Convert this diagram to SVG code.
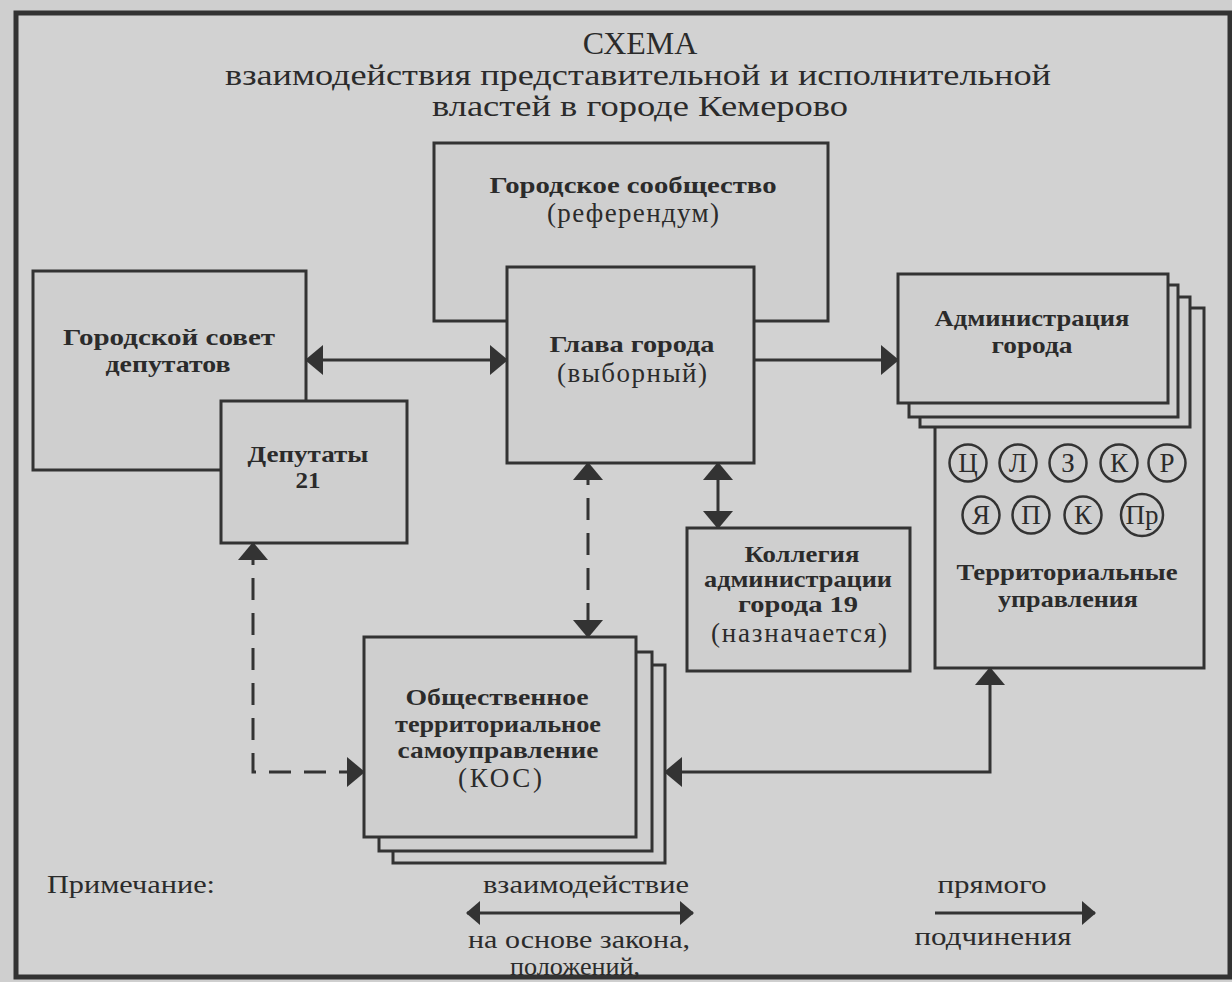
<svg xmlns="http://www.w3.org/2000/svg" width="1232" height="982" viewBox="0 0 1232 982">
<style>
.bx{fill:#cfcfcf;stroke:#333;stroke-width:3}
.cn{fill:none;stroke:#333;stroke-width:3}
.ds{stroke-dasharray:22 13}
.t{font-family:"Liberation Serif","Times New Roman",serif;fill:#2b2b2b;text-anchor:middle}
.b{font-weight:bold;font-size:24px}
.r{font-size:27px}
.lg{font-size:25px}
.ci{fill:none;stroke:#333;stroke-width:2.5}
</style>
<defs>
<marker id="ah" viewBox="0 0 18 30" refX="17" refY="15" markerWidth="18" markerHeight="30" markerUnits="userSpaceOnUse" orient="auto-start-reverse">
<path d="M0,0 L18,15 L0,30 Z" fill="#333"/>
</marker>
<marker id="ahs" viewBox="0 0 14 24" refX="13" refY="12" markerWidth="14" markerHeight="24" markerUnits="userSpaceOnUse" orient="auto-start-reverse">
<path d="M0,0 L14,12 L0,24 Z" fill="#333"/>
</marker>
</defs>
<rect width="1232" height="982" fill="#cfcfcf"/>
<rect x="16" y="13" width="1214" height="964" fill="#d2d2d2" stroke="#333" stroke-width="5"/>
<g id="title">
<text class="t" x="640" y="54" font-size="32">СХЕМА</text>
<text class="t" x="638" y="85" font-size="29" textLength="826" lengthAdjust="spacingAndGlyphs">взаимодействия представительной и исполнительной</text>
<text class="t" x="640" y="116" font-size="29" textLength="416" lengthAdjust="spacingAndGlyphs">властей в городе Кемерово</text>
</g>
<g id="gorodskoe-soobshchestvo">
<rect class="bx" x="434" y="143" width="394" height="178"/>
<text class="t b" x="633" y="193" textLength="287" lengthAdjust="spacingAndGlyphs">Городское сообщество</text>
<text class="t r" x="633" y="222" textLength="172">(референдум)</text>
</g>
<g id="glava-goroda">
<rect class="bx" x="507" y="267" width="247" height="196"/>
<text class="t b" x="632" y="352" textLength="165" lengthAdjust="spacingAndGlyphs">Глава города</text>
<text class="t r" x="632" y="382" textLength="150">(выборный)</text>
</g>
<g id="gorodskoy-sovet">
<rect class="bx" x="33" y="271" width="273" height="199"/>
<text class="t b" x="169" y="345" textLength="212" lengthAdjust="spacingAndGlyphs">Городской совет</text>
<text class="t b" x="168" y="372" textLength="125" lengthAdjust="spacingAndGlyphs">депутатов</text>
</g>
<g id="deputaty">
<rect class="bx" x="221" y="401" width="186" height="142"/>
<text class="t b" x="308" y="462" textLength="121" lengthAdjust="spacingAndGlyphs">Депутаты</text>
<text class="t b" x="308" y="488" textLength="25" lengthAdjust="spacingAndGlyphs">21</text>
</g>
<g id="territorialnye-upravleniya">
<rect class="bx" x="935" y="308" width="269" height="360"/>
<circle class="ci" cx="968" cy="463" r="18.5"/>
<circle class="ci" cx="1018" cy="463" r="18.5"/>
<circle class="ci" cx="1068" cy="463" r="18.5"/>
<circle class="ci" cx="1119" cy="463" r="18.5"/>
<circle class="ci" cx="1167" cy="463" r="18.5"/>
<circle class="ci" cx="981" cy="515" r="18.5"/>
<circle class="ci" cx="1031" cy="515" r="18.5"/>
<circle class="ci" cx="1083" cy="515" r="18.5"/>
<circle class="ci" cx="1142" cy="515" r="21"/>
<text class="t r" x="968" y="472">Ц</text>
<text class="t r" x="1018" y="472">Л</text>
<text class="t r" x="1068" y="472">З</text>
<text class="t r" x="1119" y="472">К</text>
<text class="t r" x="1167" y="472">Р</text>
<text class="t r" x="981" y="524">Я</text>
<text class="t r" x="1031" y="524">П</text>
<text class="t r" x="1083" y="524">К</text>
<text class="t r" x="1142" y="524">Пр</text>
<text class="t b" x="1067" y="580" textLength="221" lengthAdjust="spacingAndGlyphs">Территориальные</text>
<text class="t b" x="1068" y="607" textLength="140" lengthAdjust="spacingAndGlyphs">управления</text>
</g>
<g id="administratsiya-goroda">
<rect class="bx" x="920" y="297" width="270" height="130"/>
<rect class="bx" x="909" y="285" width="269" height="132"/>
<rect class="bx" x="898" y="274" width="270" height="129"/>
<text class="t b" x="1032" y="326" textLength="195" lengthAdjust="spacingAndGlyphs">Администрация</text>
<text class="t b" x="1032" y="353" textLength="81" lengthAdjust="spacingAndGlyphs">города</text>
</g>
<g id="kollegiya">
<rect class="bx" x="687" y="528" width="223" height="143"/>
<text class="t b" x="802" y="562" textLength="115" lengthAdjust="spacingAndGlyphs">Коллегия</text>
<text class="t b" x="798" y="587" textLength="188" lengthAdjust="spacingAndGlyphs">администрации</text>
<text class="t b" x="798" y="612" textLength="120" lengthAdjust="spacingAndGlyphs">города 19</text>
<text class="t r" x="799" y="642" textLength="176">(назначается)</text>
</g>
<g id="kos">
<rect class="bx" x="393" y="665" width="272" height="198"/>
<rect class="bx" x="379" y="652" width="273" height="199"/>
<rect class="bx" x="364" y="637" width="272" height="200"/>
<text class="t b" x="497" y="705" textLength="183" lengthAdjust="spacingAndGlyphs">Общественное</text>
<text class="t b" x="498" y="732" textLength="206" lengthAdjust="spacingAndGlyphs">территориальное</text>
<text class="t b" x="498" y="758" textLength="201" lengthAdjust="spacingAndGlyphs">самоуправление</text>
<text class="t r" x="500" y="787" textLength="84">(КОС)</text>
</g>
<g id="connectors">
<line class="cn" x1="306" y1="360" x2="507" y2="360" marker-start="url(#ah)" marker-end="url(#ah)"/>
<line class="cn" x1="754" y1="360" x2="898" y2="360" marker-end="url(#ah)"/>
<line class="cn" x1="718" y1="463" x2="718" y2="528" marker-start="url(#ah)" marker-end="url(#ah)"/>
<line class="cn ds" x1="588" y1="463" x2="588" y2="637" marker-start="url(#ah)" marker-end="url(#ah)"/>
<path class="cn ds" d="M253,543 V772 H364" marker-start="url(#ah)" marker-end="url(#ah)"/>
<path class="cn" d="M990,668 V772 H665" marker-start="url(#ah)" marker-end="url(#ah)"/>
</g>
<g id="legend">
<text class="t lg" x="47" y="893" style="text-anchor:start" textLength="168" lengthAdjust="spacingAndGlyphs">Примечание:</text>
<text class="t lg" x="586" y="893" textLength="206" lengthAdjust="spacingAndGlyphs">взаимодействие</text>
<line class="cn" x1="467" y1="913" x2="693" y2="913" marker-start="url(#ahs)" marker-end="url(#ahs)"/>
<text class="t lg" x="579" y="948" textLength="222" lengthAdjust="spacingAndGlyphs">на основе закона,</text>
<text class="t lg" x="575" y="975" textLength="130" lengthAdjust="spacingAndGlyphs">положений,</text>
<text class="t lg" x="992" y="893" textLength="109" lengthAdjust="spacingAndGlyphs">прямого</text>
<line class="cn" x1="935" y1="913" x2="1095" y2="913" marker-end="url(#ahs)"/>
<text class="t lg" x="993" y="945" textLength="157" lengthAdjust="spacingAndGlyphs">подчинения</text>
</g>
</svg>
